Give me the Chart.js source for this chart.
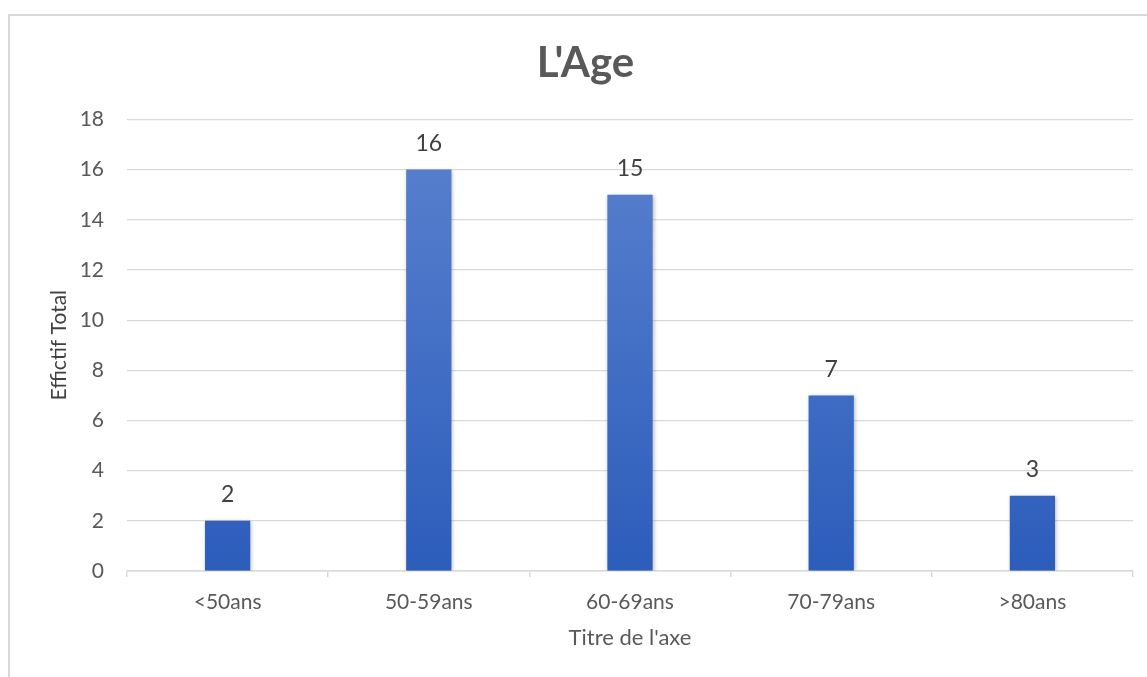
<!DOCTYPE html>
<html>
<head>
<meta charset="utf-8">
<script src="https://cdn.jsdelivr.net/npm/chart.js@4/dist/chart.umd.min.js"></script>
<style>
  html, body { margin: 0; padding: 0; background: #fff; overflow: hidden; }
  #wrap { position: relative; width: 1147px; height: 677px; }
  #frame { position: absolute; left: 8px; top: 14px; width: 1150px; height: 680px; border: 2px solid #d9d9d9; box-sizing: border-box; }
  canvas { position: absolute; left: 0; top: 0; }
</style>
</head>
<body>
<div id="wrap">
  <div id="frame"></div>
  <canvas id="ageChart" width="1147" height="677"></canvas>
</div>
<script>
const ageGroups = ["<50ans", "50-59ans", "60-69ans", "70-79ans", ">80ans"];
const headcount = [2, 16, 15, 7, 3];
const yTicks = [0, 2, 4, 6, 8, 10, 12, 14, 16, 18];

const font = "Lato, 'Open Sans', sans-serif";

// vertical blue gradient like the office theme fill
function barFill(context) {
  const area = context.chart.chartArea;
  if (!area) return "#4472c4";
  const el = context.element;
  const top = el && el.y !== undefined ? el.y : area.top;
  const bottom = el && el.base !== undefined ? el.base : area.bottom;
  if (!isFinite(top) || !isFinite(bottom) || top === bottom) return "#4472c4";
  const g = context.chart.ctx.createLinearGradient(0, top, 0, bottom);
  g.addColorStop(0, "#5b82cf");
  g.addColorStop(1, "#2c5dbb");
  return g;
}

const barShadow = {
  id: "barShadow",
  beforeDatasetDraw(chart) {
    const ctx = chart.ctx;
    ctx.save();
    ctx.shadowColor = "rgba(0, 0, 0, 0.28)";
    ctx.shadowBlur = 4;
    ctx.shadowOffsetX = 1;
    ctx.shadowOffsetY = 1;
  },
  afterDatasetDraw(chart) {
    chart.ctx.restore();
  }
};

const valueLabels = {
  id: "valueLabels",
  afterDatasetsDraw(chart) {
    const ctx = chart.ctx;
    const meta = chart.getDatasetMeta(0);
    ctx.save();
    ctx.font = "23px " + font;
    ctx.fillStyle = "#404040";
    ctx.textAlign = "center";
    ctx.textBaseline = "middle";
    meta.data.forEach((bar, i) => {
      ctx.fillText(String(headcount[i]), bar.x, bar.y - 26);
    });
    ctx.restore();
  }
};

new Chart(document.getElementById("ageChart"), {
  type: "bar",
  data: {
    labels: ageGroups,
    datasets: [{
      data: headcount,
      backgroundColor: barFill,
      borderWidth: 0,
      categoryPercentage: 1,
      barPercentage: 0.225
    }]
  },
  options: {
    responsive: false,
    animation: false,
    // left inset keeps the title centred on the framed area
    layout: { padding: { left: 24, right: 0, top: 0, bottom: 0 } },
    plugins: {
      legend: { display: false },
      tooltip: { enabled: false },
      title: {
        display: true,
        text: "L'Age",
        color: "#595959",
        font: { family: font, size: 42, weight: "bold" },
        padding: { top: 38, bottom: 31 }
      }
    },
    scales: {
      x: {
        grid: { drawOnChartArea: false, drawTicks: true, tickLength: 6, color: "#d9d9d9", lineWidth: 1.5 },
        border: { display: true, color: "#d9d9d9", width: 1.5 },
        ticks: { color: "#595959", font: { family: font, size: 21 }, padding: 13 },
        title: {
          display: true,
          text: "Titre de l'axe",
          color: "#595959",
          font: { family: font, size: 22 },
          padding: { top: 0, bottom: 26 }
        },
        afterFit(scale) {
          scale.height = 106;
          scale.paddingRight = 14;
        }
      },
      y: {
        min: 0,
        max: 18,
        afterBuildTicks(scale) { scale.ticks = yTicks.map(v => ({ value: v })); },
        grid: { color: "#d9d9d9", lineWidth: 1.2, drawTicks: false },
        border: { display: false },
        ticks: { color: "#595959", font: { family: font, size: 21 }, padding: 23 },
        title: {
          display: true,
          text: "Effictif Total",
          color: "#404040",
          font: { family: font, size: 21 },
          padding: { top: 23, bottom: 0 }
        },
        afterFit(scale) { scale.width = 103; }
      }
    }
  },
  plugins: [barShadow, valueLabels]
});
</script>
</body>
</html>
